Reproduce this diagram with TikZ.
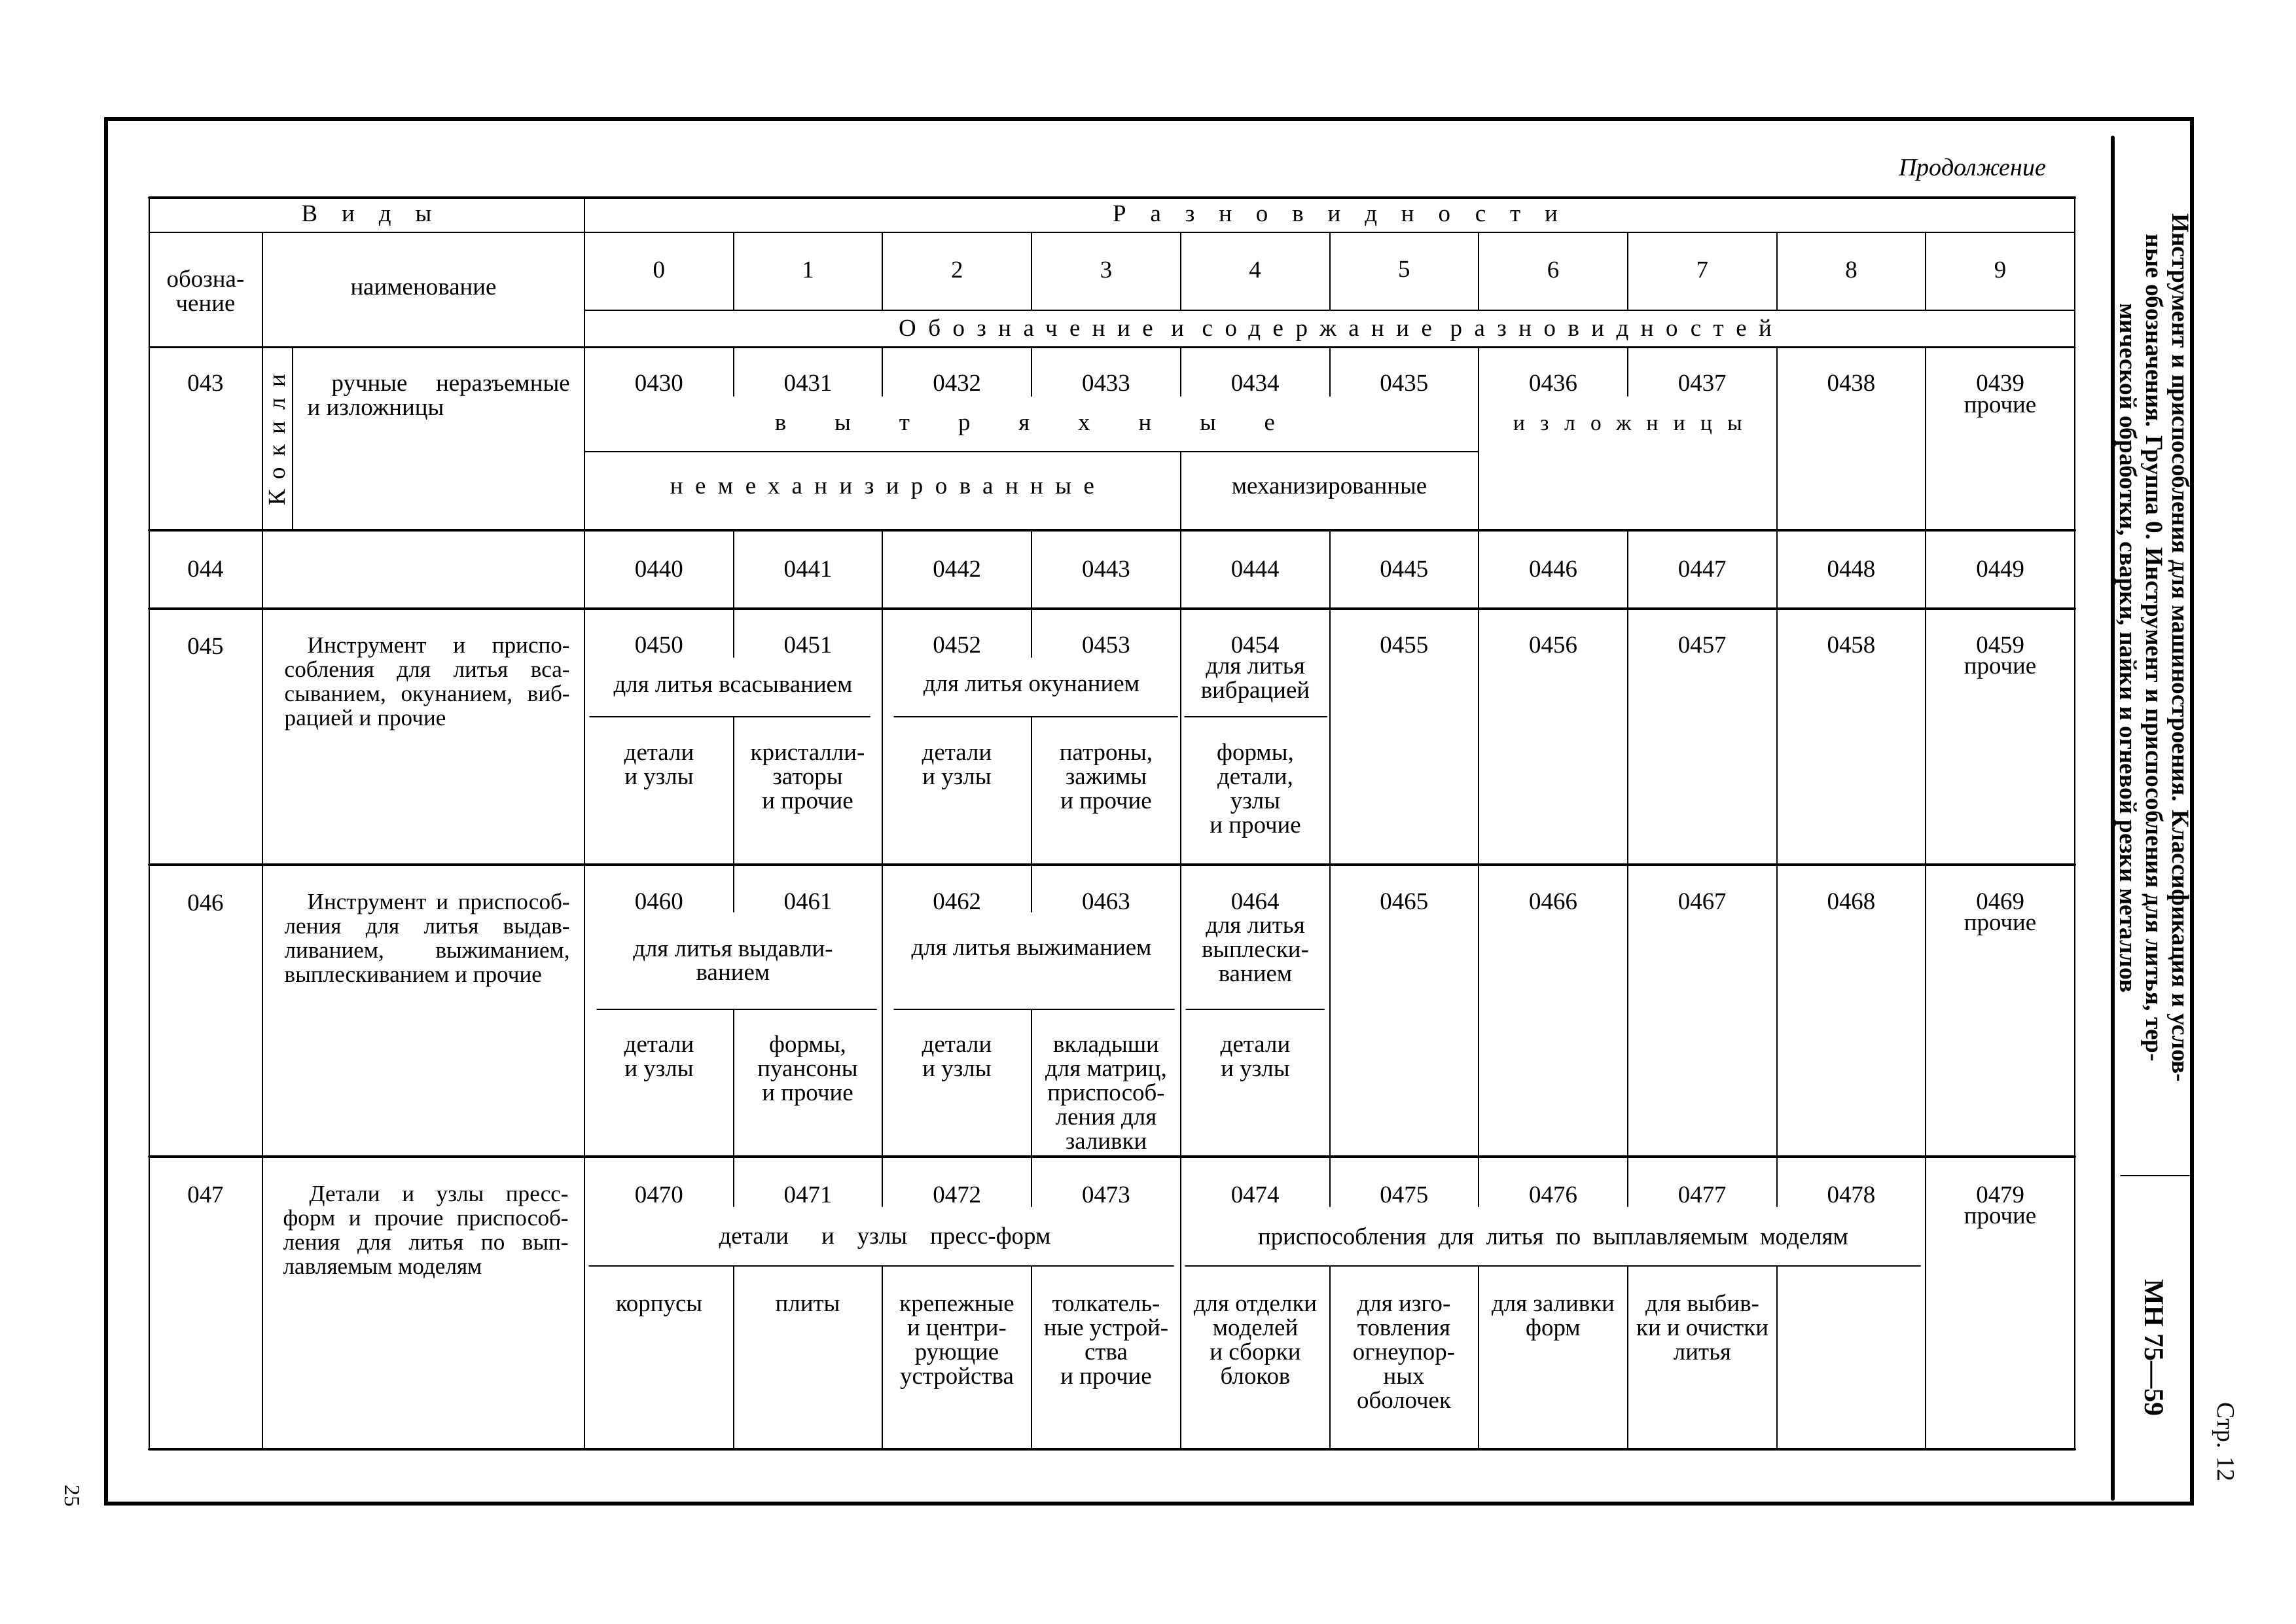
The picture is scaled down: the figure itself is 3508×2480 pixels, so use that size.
\documentclass[tikz,border=0pt]{standalone}
\usepackage{fontspec}
\setmainfont{Liberation Serif}
\newcommand{\razb}[2]{{\addfontfeature{LetterSpace=#1}#2}}
\newcommand{\tstrut}{\rule{0pt}{2.7mm}}
\tikzset{
  rule/.style={line width=0.4mm},
  hair/.style={line width=0.2mm},
  frm/.style={line width=0.55mm},
  up/.style={anchor=north,align=center},
  descr/.style={anchor=north west,text width=43.6mm,align=justify,
    font=\fontsize{10}{10.5}\selectfont,execute at begin node=\tstrut},
}
\begin{document}
\begin{tikzpicture}[x=0.1mm,y=-0.1mm,font=\fontsize{10.5}{10.5}\selectfont,inner sep=0pt,line cap=round]
\useasboundingbox (0,0) rectangle (3508,2480);
% рамка
\draw[frm] (162,182) rectangle (3349,2297);
\draw[frm] (3228,210) -- (3228,2290);
\draw[hair] (3240,1796) -- (3345,1796);
% горизонтали таблицы
\foreach \y in {302,810,930,1321,1767,2214}
  \draw[rule] (228,\y) -- (3170,\y);
\draw[hair] (228,355) -- (3170,355);
\draw[hair] (893,474) -- (3170,474);
\draw[line width=0.3mm] (228,530) -- (3170,530);
% вертикали
\draw[hair] (228,302) -- (228,2214);
\draw[hair] (3170,302) -- (3170,2214);
\draw[hair] (893,302) -- (893,2214);
\draw[hair] (401,355) -- (401,2214);
\draw[hair] (447,530) -- (447,810);
\foreach \i in {1,...,9} {
  \draw[hair] ({893+227.7*\i},355) -- ({893+227.7*\i},474);
  \draw[hair] ({893+227.7*\i},810) -- ({893+227.7*\i},930);
}
\foreach \i in {1,2,3,4,5,7} \draw[hair] ({893+227.7*\i},530) -- ({893+227.7*\i},605);
\foreach \i in {6,8,9} \draw[hair] ({893+227.7*\i},530) -- ({893+227.7*\i},810);
\draw[hair] (893,690) -- (2259,690);
\draw[hair] (1804,690) -- (1804,810);
\foreach \i in {1,3} {
  \draw[hair] ({893+227.7*\i},930) -- ({893+227.7*\i},1004);
  \draw[hair] ({893+227.7*\i},1095) -- ({893+227.7*\i},1321);
  \draw[hair] ({893+227.7*\i},1321) -- ({893+227.7*\i},1393);
  \draw[hair] ({893+227.7*\i},1542) -- ({893+227.7*\i},1767);
}
\foreach \i in {2,4,5,6,7,8,9} \draw[hair] ({893+227.7*\i},930) -- ({893+227.7*\i},1767);
\draw[hair] (901,1095) -- (1329,1095) (1366,1095) -- (1799,1095) (1810,1095) -- (2027,1095);
\draw[hair] (912,1542) -- (1339,1542) (1366,1542) -- (1794,1542) (1812,1542) -- (2023,1542);
\foreach \i in {1,2,3,5,6,7,8} {
  \draw[hair] ({893+227.7*\i},1767) -- ({893+227.7*\i},1843);
  \draw[hair] ({893+227.7*\i},1934) -- ({893+227.7*\i},2214);
}
\foreach \i in {4,9} \draw[hair] ({893+227.7*\i},1767) -- ({893+227.7*\i},2214);
\draw[hair] (900,1934) -- (1793,1934) (1811,1934) -- (2934,1934);
% шапка
\node[font=\itshape\fontsize{10.8}{12}\selectfont,anchor=east] (prod) at (3127,259) {Продолжение};
\node (vidy) at (560,330) {\razb{100}{Виды}};
\node (razn) at (2040,330) {\razb{100}{Разновидности}};
\node[align=center] (oboz) at (314,444) {обозна-\\чение};
\node (naim) at (647,442) {наименование};
\foreach \i in {0,...,9}
  \node (d\i) at ({1006.85+227.7*\i},412) {\i};
\node (soder) at (2040,504) {\razb{50}{Обозначение и содержание разновидностей}};
% 043
\node (k043) at (314,585) {043};
\node[rotate=90] (kokil) at (424,672) {\razb{45}{Кокили}};
\node[descr,text width=40.1mm,font=\fontsize{10.5}{10.5}\selectfont] (t043) at (469,570) {\hspace*{3.7mm}ручные неразъемные\linebreak и изложницы};
\foreach \i in {0,...,9}
  \node (n043\i) at ({1006.85+227.7*\i},585) {043\i};
\node (p0439) at (3056,626) {прочие};
\node (vytr) at (1566,653) {\razb{200}{вытряхные}};
\node (nemeh) at (1348,750) {\razb{50}{немеханизированные}};
\node (meh) at (2031,750) {механизированные};
\node[font=\fontsize{9.5}{10}\selectfont] (izl) at (2487,653) {\razb{70}{изложницы}};
% 044
\node (k044) at (314,869) {044};
\foreach \i in {0,...,9}
  \node (n044\i) at ({1006.85+227.7*\i},869) {044\i};
% 045
\node (k045) at (314,987) {045};
\node[descr] (t045) at (434,970) {\hspace*{3.5mm}Инструмент и приспо-\linebreak собления для литья вса-\linebreak сыванием, окунанием, виб-\linebreak рацией и прочие};
\foreach \i in {0,...,9}
  \node (n045\i) at ({1006.85+227.7*\i},985) {045\i};
\node (p0459) at (3056,1025) {прочие};
\node (vsas) at (1120,1052) {для литья всасыванием};
\node (okun) at (1576,1052) {для литья окунанием};
\node[align=center] (vibr) at (1918,1043) {для литья\\вибрацией};
\node[up] (l0450) at (1007,1134) {\tstrut детали\\и узлы};
\node[up] (l0451) at (1234,1134) {\tstrut кристалли-\\заторы\\и прочие};
\node[up] (l0452) at (1462,1134) {\tstrut детали\\и узлы};
\node[up] (l0453) at (1690,1134) {\tstrut патроны,\\зажимы\\и прочие};
\node[up] (l0454) at (1918,1134) {\tstrut формы,\\детали,\\узлы\\и прочие};
% 046
\node (k046) at (314,1379) {046};
\node[descr] (t046) at (434,1362) {\hspace*{3.5mm}Инструмент и приспособ-\linebreak ления для литья выдав-\linebreak ливанием, выжиманием,\linebreak выплескиванием и прочие};
\foreach \i in {0,...,9}
  \node (n046\i) at ({1006.85+227.7*\i},1377) {046\i};
\node (p0469) at (3056,1417) {прочие};
\node[align=center] (vydav) at (1120,1471) {для литья выдавли-\\ванием};
\node (vyzh) at (1576,1454) {для литья выжиманием};
\node[align=center] (vypl) at (1918,1454) {для литья\\выплески-\\ванием};
\node[up] (l0460) at (1007,1580) {\tstrut детали\\и узлы};
\node[up] (l0461) at (1234,1580) {\tstrut формы,\\пуансоны\\и прочие};
\node[up] (l0462) at (1462,1580) {\tstrut детали\\и узлы};
\node[up] (l0463) at (1690,1580) {\tstrut вкладыши\\для матриц,\\приспособ-\\ления для\\заливки};
\node[up] (l0464) at (1918,1580) {\tstrut детали\\и узлы};
% 047
\node (k047) at (314,1825) {047};
\node[descr] (t047) at (432,1808) {\hspace*{4mm}Детали и узлы пресс-\linebreak форм и прочие приспособ-\linebreak ления для литья по вып-\linebreak лавляемым моделям};
\foreach \i in {0,...,9}
  \node (n047\i) at ({1006.85+227.7*\i},1825) {047\i};
\node (p0479) at (3056,1865) {прочие};
\node (pressf) at (1352,1892) {детали\hspace{5mm}и\hspace{3.5mm}узлы\hspace{3.5mm}пресс-форм};
\node (vypl2) at (2373,1892) {\spaceskip=1.85mm приспособления для литья по выплавляемым моделям};
\node[up] (l0470) at (1007,1976) {\tstrut корпусы};
\node[up] (l0471) at (1234,1976) {\tstrut плиты};
\node[up] (l0472) at (1462,1976) {\tstrut крепежные\\и центри-\\рующие\\устройства};
\node[up] (l0473) at (1690,1976) {\tstrut толкатель-\\ные устрой-\\ства\\и прочие};
\node[up] (l0474) at (1918,1976) {\tstrut для отделки\\моделей\\и сборки\\блоков};
\node[up] (l0475) at (2145,1976) {\tstrut для изго-\\товления\\огнеупор-\\ных\\оболочек};
\node[up] (l0476) at (2373,1976) {\tstrut для заливки\\форм};
\node[up] (l0477) at (2601,1976) {\tstrut для выбив-\\ки и очистки\\литья};
% боковые надписи
\node[rotate=-90,align=center,font=\bfseries\fontsize{10.6}{11.4}\selectfont] (titul) at (3289,990) {Инструмент и приспособления для машиностроения. Классификация и услов-\\ные обозначения. Группа 0. Инструмент и приспособления для литья, тер-\\мической обработки, сварки, пайки и огневой резки металлов};
\node[rotate=-90,font=\bfseries\fontsize{12}{12}\selectfont] (mn) at (3291,2059) {МН 75—59};
\node[rotate=-90,font=\fontsize{10.8}{11}\selectfont] (str) at (3397,2203) {Стр. 12};
\node[rotate=-90,font=\fontsize{9.5}{10}\selectfont] (pg) at (110,2285) {25};
\end{tikzpicture}
\end{document}
